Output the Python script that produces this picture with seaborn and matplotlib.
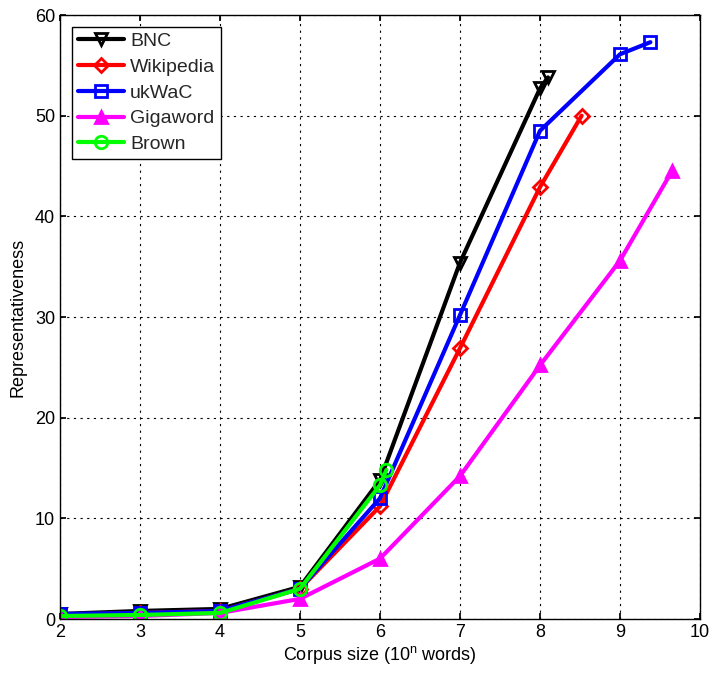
import matplotlib
matplotlib.use("Agg")
import matplotlib.pyplot as plt
import seaborn as sns
import pandas as pd

sns.set_theme(style="white")
plt.rcParams['font.family'] = ['Liberation Sans', 'DejaVu Sans']

bnc_x = [2, 3, 4, 5, 6, 7, 8, 8.1]
bnc_y = [0.5, 0.8, 1.0, 3.2, 13.8, 35.4, 52.7, 53.8]
wiki_x = [2, 3, 4, 5, 6, 7, 8, 8.52]
wiki_y = [0.4, 0.6, 0.8, 3.0, 11.2, 26.9, 42.9, 50.0]
ukwac_x = [2, 3, 4, 5, 6, 7, 8, 9, 9.38]
ukwac_y = [0.5, 0.6, 0.8, 3.0, 12.0, 30.2, 48.5, 56.1, 57.3]
giga_x = [2, 3, 4, 5, 6, 7, 8, 9, 9.65]
giga_y = [0.2, 0.3, 0.6, 2.0, 6.0, 14.2, 25.2, 35.6, 44.5]
brown_x = [2, 3, 4, 5, 6, 6.08]
brown_y = [0.3, 0.4, 0.6, 3.0, 13.3, 14.8]

series = [
    ("BNC", bnc_x, bnc_y, "black", "v", "none"),
    ("Wikipedia", wiki_x, wiki_y, "red", "D", "none"),
    ("ukWaC", ukwac_x, ukwac_y, "blue", "s", "none"),
    ("Gigaword", giga_x, giga_y, "magenta", "^", "magenta"),
    ("Brown", brown_x, brown_y, "lime", "o", "none"),
]

fig = plt.figure(figsize=(7.14, 6.77), dpi=100)
ax = fig.add_axes([60/714, 58/677, 640/714, 604/677])

for name, xs, ys, col, mk, fc in series:
    df = pd.DataFrame({"x": xs, "y": ys})
    sns.lineplot(data=df, x="x", y="y", ax=ax, color=col, linewidth=3,
                 marker=mk, markersize=9 if mk != "D" else 7,
                 markerfacecolor=fc, markeredgecolor=col, markeredgewidth=2,
                 label=name, sort=False)

ax.set_xlim(2, 10)
ax.set_ylim(0, 60)
ax.set_xticks(range(2, 11))
ax.set_yticks(range(0, 61, 10))
ax.grid(True, color="black", linestyle=(0, (2, 4)), linewidth=0.8)
for s in ax.spines.values():
    s.set_color("black")
    s.set_linewidth(1)
ax.tick_params(axis="both", labelsize=13, colors="black", direction="in", length=4,
               top=True, right=True, bottom=True, left=True)
ax.set_xlabel("Corpus size (10$^{\\mathregular{n}}$ words)", fontsize=13, color="black", labelpad=2)
ax.set_ylabel("Representativeness", fontsize=13, color="black", labelpad=6)

leg = ax.legend(loc="upper left", fontsize=14, frameon=True, fancybox=False,
                edgecolor="black", framealpha=1, borderaxespad=0.6,
                handlelength=2.4, labelspacing=0.42, borderpad=0.3, handletextpad=0.3)
leg.get_frame().set_linewidth(1)

fig.savefig("out.png", dpi=100)
